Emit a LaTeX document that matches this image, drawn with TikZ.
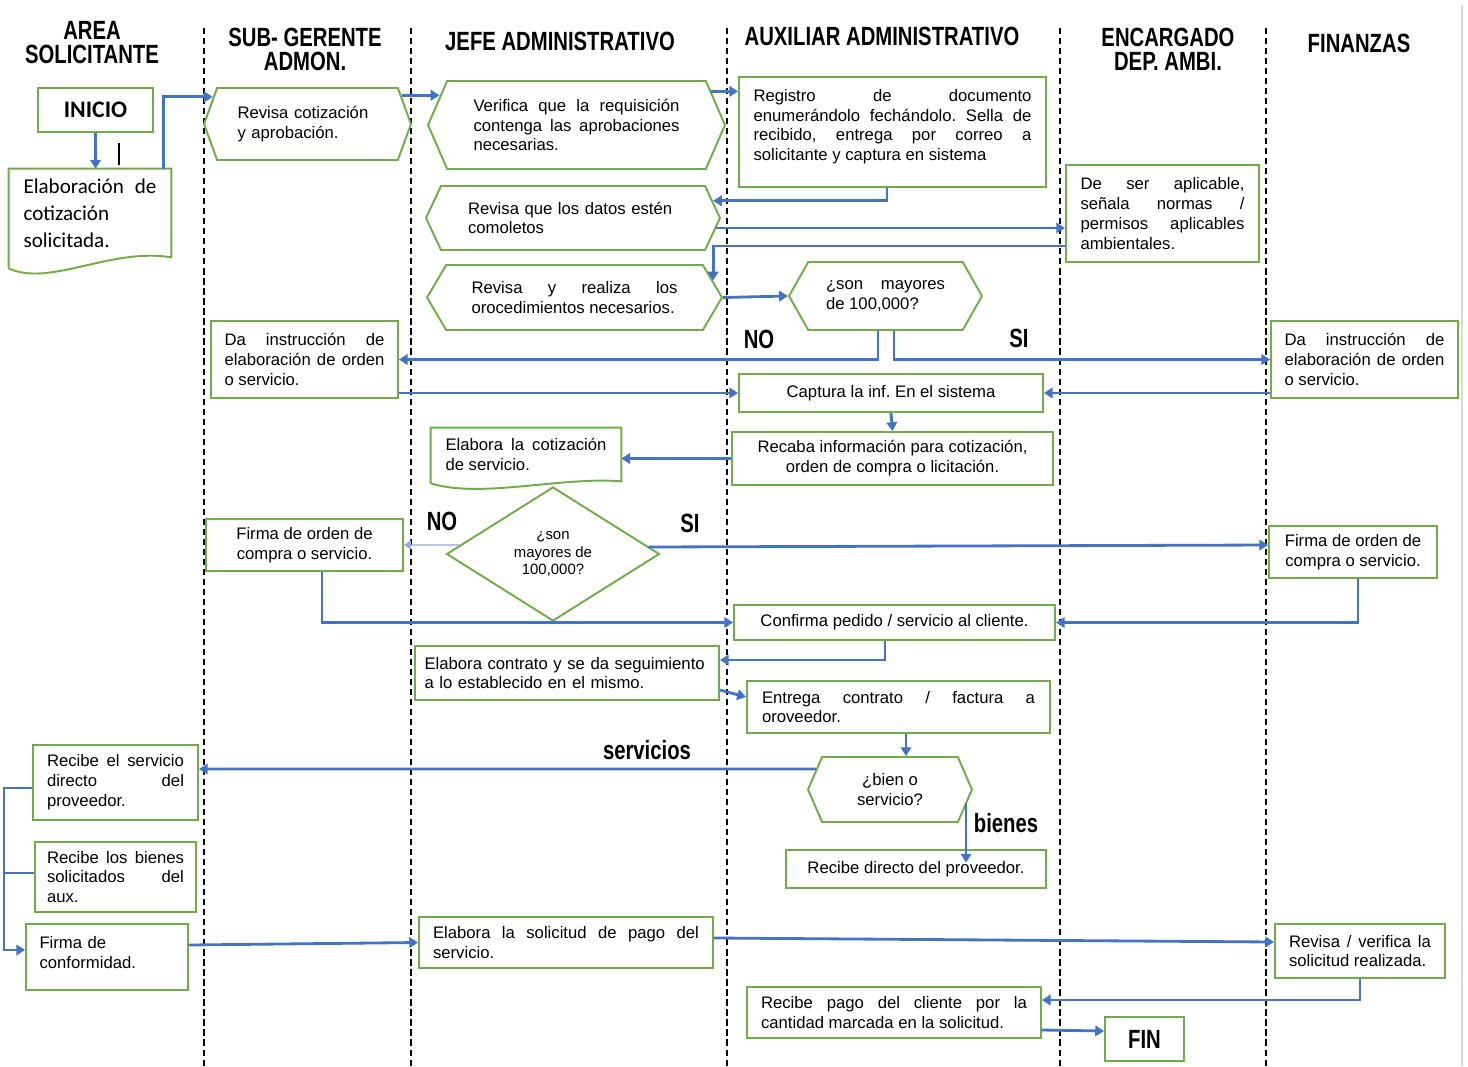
\documentclass[tikz,border=0pt]{standalone}
\usepackage{fontspec}
\setmainfont{Liberation Sans}
\newfontfamily\headfont{Liberation Sans}[FakeStretch=0.77]
\newfontfamily\calfont{Carlito}
\usetikzlibrary{arrows.meta,shapes.geometric,shapes.symbols}
\definecolor{flowgreen}{HTML}{70AD47}
\definecolor{flowblue}{HTML}{4472C4}
\newcommand{\bodyfont}{\fontsize{9.5}{11.3}\selectfont\frenchspacing\hyphenpenalty=10000\relax}

\begin{document}
\begin{tikzpicture}
		[x=0.02cm,y=-0.02cm,
		box/.style={draw=flowgreen,line width=1.1pt,fill=white,inner sep=0pt,font=\bodyfont},
		hexbox/.style={box,shape=signal,signal to=west and east,signal pointer angle=#1},
		docline/.style={draw=flowgreen,line width=1.1pt},
		title/.style={font=\headfont\bfseries\fontsize{15}{13.6}\selectfont,align=center,inner sep=1pt},
		tag/.style={font=\headfont\bfseries\fontsize{15}{15}\selectfont,inner sep=0pt},
		arr/.style={draw=flowblue,line width=1.6pt,-{Triangle[length=5pt,width=6pt]}},
		arrthin/.style={draw=flowblue!60,line width=0.8pt,-{Triangle[length=4pt,width=5pt]}},
		link/.style={draw=flowblue,line width=1.6pt},
		lane/.style={draw=black,line width=0.7pt,dash pattern=on 3.5pt off 2.2pt},
		]
		\useasboundingbox (0,0) rectangle (1468,1066);
		
		% lanes
		\draw[lane] (204,28) -- (204,1066);
		\draw[lane] (411,28) -- (411,1066);
		\draw[lane] (727,28) -- (727,1066);
		\draw[lane] (1060,28) -- (1060,1066);
		\draw[lane] (1266,28) -- (1266,1066);
		\draw[gray!30,line width=1.6pt] (1462,5) -- (1462,1066);
		
		\node[title] (hsol) at (92,43) {AREA\\SOLICITANTE};
		\node[title] (hsub) at (305,49) {SUB- GERENTE\\ADMON.};
		\node[title] (hjef) at (560,41) {JEFE ADMINISTRATIVO};
		\node[title] (haux) at (882,36) {AUXILIAR ADMINISTRATIVO};
		\node[title] (henc) at (1168,49) {ENCARGADO\\DEP. AMBI.};
		\node[title] (hfin) at (1359,43) {FINANZAS};
		
		% steps
		\node[box,minimum width=2.3cm,minimum height=0.88cm,
			font=\calfont\bfseries\fontsize{13.5}{14}\selectfont] (ini) at (95.5,110) {INICIO};
		\node[inner sep=0pt,minimum width=3.24cm,minimum height=1.76cm,text width=2.66cm,align=justify,
			font=\calfont\fontsize{12}{15.4}\selectfont] (elab) at (90,213)
			{Elaboración de\linebreak cotización\\solicitada.};
		\node[hexbox=140,minimum width=4.14cm,minimum height=1.44cm,text width=2.8cm,align=left]
			(rev1) at (307.5,124) {Revisa cotización\\y aprobación.};
		\node[hexbox=133,minimum width=5.94cm,minimum height=1.76cm,text width=4.12cm,align=justify]
			(ver) at (576.5,125) {Verifica que la requisición\linebreak contenga las aprobaciones\linebreak necesarias.};
		\node[box,minimum width=6.14cm,minimum height=2.2cm,text width=5.56cm,align=justify]
			(reg) at (892.5,132) {Registro de documento\linebreak enumerándolo fechándolo. Sella de\linebreak
			recibido, entrega por correo a\linebreak solicitante y captura en sistema\par\kern6pt};
		\node[hexbox=130,minimum width=5.88cm,minimum height=1.28cm,text width=4.2cm,align=left]
			(dat) at (573,218) {Revisa que los datos estén\\comoletos};
		\node[box,minimum width=3.86cm,minimum height=1.94cm,text width=3.28cm,align=justify]
			(amb) at (1162.5,213.5) {De ser aplicable,\linebreak señala normas /\linebreak permisos aplicables\linebreak ambientales.};
		\node[hexbox=119,minimum width=5.9cm,minimum height=1.3cm,text width=4.12cm,align=justify]
			(rea) at (574.5,297.5) {Revisa y realiza los\linebreak orocedimientos necesarios.};
		\node[hexbox=121,minimum width=3.86cm,minimum height=1.36cm,text width=2.38cm,align=justify]
			(may1) at (885.5,296) {¿son mayores\linebreak de 100,000?};
		\node[box,minimum width=3.74cm,minimum height=1.54cm,text width=3.2cm,align=justify]
			(insL) at (304.5,359.5) {Da instrucción de\linebreak elaboración de orden\linebreak o servicio.};
		\node[box,minimum width=3.74cm,minimum height=1.54cm,text width=3.2cm,align=justify]
			(insR) at (1364.5,359.5) {Da instrucción de\linebreak elaboración de orden\linebreak o servicio.};
		\node[box,minimum width=6.08cm,minimum height=0.76cm] (cap) at (891,393) {Captura la inf. En el sistema};
		\node[box,minimum width=6.42cm,minimum height=1.06cm,align=center]
			(rec) at (892.5,458.5) {Recaba información para cotización,\\orden de compra o licitación.};
		\node[inner sep=0pt,minimum width=3.8cm,minimum height=1.06cm,text width=3.22cm,align=justify,font=\bodyfont]
			(cot) at (526,454.5) {Elabora la cotización\linebreak de servicio.};
		\node[box,shape=diamond,minimum width=4.26cm,minimum height=2.68cm,align=center,
			font=\fontsize{8.5}{10}\selectfont] (dia) at (553,554) {¿son\\mayores de\\100,000?};
		\node[box,minimum width=3.94cm,minimum height=1.04cm,align=center]
			(firL) at (304.5,545) {Firma de orden de\\compra o servicio.};
		\node[box,minimum width=3.36cm,minimum height=1.04cm,align=center]
			(firR) at (1353,552) {Firma de orden de\\compra o servicio.};
		\node[box,minimum width=6.42cm,minimum height=0.7cm] (conf) at (894.5,622.5) {Confirma pedido / servicio al cliente.};
		\node[box,minimum width=6.08cm,minimum height=1.08cm,text width=5.7cm,align=left]
			(con) at (567,673) {Elabora contrato y se da seguimiento\\a lo establecido en el mismo.};
		\node[box,minimum width=6.06cm,minimum height=1.04cm,text width=5.46cm,align=justify]
			(ent) at (898.5,707) {Entrega contrato / factura a\linebreak oroveedor.};
		\node[hexbox=133,minimum width=3.28cm,minimum height=1.3cm,align=center]
			(bien) at (890,789.5) {¿bien o\\servicio?};
		\node[box,minimum width=5.2cm,minimum height=0.76cm] (rdp) at (916,869) {Recibe directo del proveedor.};
		\node[box,minimum width=3.3cm,minimum height=1.5cm,text width=2.74cm,align=justify]
			(rsv) at (115.5,782.5) {Recibe el servicio\linebreak directo del\linebreak proveedor.};
		\node[box,minimum width=3.22cm,minimum height=1.4cm,text width=2.74cm,align=justify]
			(rbn) at (115.5,877) {Recibe los bienes\linebreak solicitados del\linebreak aux.};
		\node[box,minimum width=3.24cm,minimum height=1.32cm,text width=2.7cm,align=left]
			(fco) at (107,957) {Firma de\\conformidad.\par\kern5pt};
		\node[box,minimum width=5.88cm,minimum height=1.02cm,text width=5.32cm,align=justify]
			(sol) at (566,942.5) {Elabora la solicitud de pago del\linebreak servicio.};
		\node[box,minimum width=3.4cm,minimum height=1.08cm,text width=2.84cm,align=justify]
			(rvf) at (1360,951) {Revisa / verifica la\linebreak solicitud realizada.};
		\node[box,minimum width=5.88cm,minimum height=1.02cm,text width=5.32cm,align=justify]
			(pag) at (894,1012.5) {Recibe pago del cliente por la\linebreak cantidad marcada en la solicitud.};
		\node[box,minimum width=1.58cm,minimum height=0.88cm,
			font=\headfont\bfseries\fontsize{15}{15}\selectfont] (fin) at (1144.5,1039) {FIN};
		
		% document outlines
		\draw[docline] ([yshift=-0.22cm]elab.south west) -- (elab.north west) -- (elab.north east) -- (elab.south east)
			.. controls ([xshift=-1.22cm,yshift=0.2cm]elab.south east) and ([xshift=0.82cm,yshift=-0.6cm]elab.south west)
			.. ([yshift=-0.22cm]elab.south west);
		\draw[docline] ([yshift=-0.04cm]cot.south west) -- (cot.north west) -- (cot.north east) -- (cot.south east)
			.. controls ([xshift=-1.2cm,yshift=0.1cm]cot.south east) and ([xshift=1cm,yshift=-0.35cm]cot.south west)
			.. ([yshift=-0.04cm]cot.south west);
		\draw[line width=0.8pt] (119,143) -- (119,165);
		
		% labels
		\node[tag] (no1) at (759,339) {NO};
		\node[tag] (si1) at (1019,338) {SI};
		\node[tag] (no2) at (442,521) {NO};
		\node[tag] (si2) at (690,523) {SI};
		\node[tag] (lserv) at (647,750) {servicios};
		\node[tag] (lbien) at (1006,823) {bienes};
		
		% connectors
		\draw[arr] (ini.south) -- (ini.south |- elab.north);
		\draw[arr] ([xshift=-0.16cm]elab.north east) |- (rev1.164);
		\draw[arr] (rev1.17) -- (rev1.17 -| ver.168);
		\draw[arr] (ver.14) -- (ver.14 -| reg.west);
		\draw[arr] ([xshift=-0.11cm]reg.south) |- (dat.7);
		\draw[arr] (dat.-4) -- (dat.-4 -| amb.west);
		\draw[arr] ([yshift=-0.65cm]amb.west) -| (rea.7);
		\draw[arr] (rea.east) -- (may1.west);
		\draw[arr] ([xshift=-0.15cm]may1.south) |- (insL.east);
		\draw[arr] ([xshift=0.17cm]may1.south) |- (insR.west);
		\draw[arr] (insL.east |- cap.west) -- (cap.west);
		\draw[arr] (insR.west |- cap.east) -- (cap.east);
		\draw[arr] (cap.south) -- (rec.north);
		\draw[arr] (rec.west) -- (rec.west -| cot.east);
		\draw[arrthin] ([xshift=0.28cm,yshift=0.18cm]dia.west) -- (firL.east);
		\draw[arr] ([xshift=-0.24cm,yshift=0.14cm]dia.east) -- ([yshift=0.14cm]firR.west);
		\draw[arr] ([xshift=0.35cm]firL.south) |- (conf.west);
		\draw[arr] ([xshift=0.1cm]firR.south) |- (conf.east);
		\draw[arr] ([xshift=-0.19cm]conf.south) |- ([yshift=0.26cm]con.east);
		\draw[arr] ([yshift=-0.34cm]con.east) -- ([yshift=0.2cm]ent.west);
		\draw[arr] ([xshift=0.15cm]ent.south) -- ([xshift=0.15cm]ent.south |- bien.north);
		\draw[arr] ([xshift=0.18cm,yshift=0.41cm]bien.west) -- ([yshift=0.27cm]rsv.east);
		\draw[arr] ([xshift=-0.14cm,yshift=-0.27cm]bien.east) -- ([xshift=-0.14cm,yshift=-0.27cm]bien.east |- rdp.north);
		\draw[link] ([yshift=0.08cm]rbn.west) -- ++(-30,0);
		\draw[arr] ([yshift=-0.11cm]rsv.west) -- ++(-28,0) |- ([yshift=0.14cm]fco.west);
		\draw[arr] ([yshift=0.24cm]fco.east) -- (sol.west);
		\draw[arr] ([yshift=0.09cm]sol.east) -- ([yshift=0.18cm]rvf.west);
		\draw[arr] (rvf.south) |- ([yshift=0.25cm]pag.east);
		\draw[arr] ([yshift=-0.35cm]pag.east) -- ([yshift=0.16cm]fin.west);
	\end{tikzpicture}
\end{document}
